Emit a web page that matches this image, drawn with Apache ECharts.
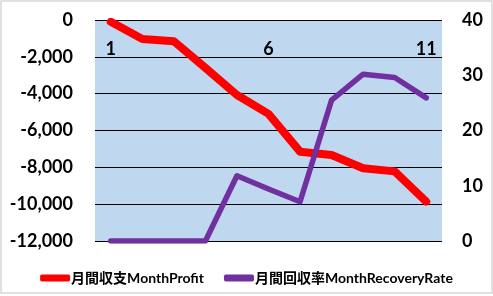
<!DOCTYPE html>
<html>
<head>
<meta charset="utf-8">
<script src="https://cdn.jsdelivr.net/npm/echarts@6/dist/echarts.min.js"></script>
<style>
html,body{margin:0;padding:0;background:#fff;}
#chart{width:493px;height:296px;}
</style>
</head>
<body>
<div id="chart"></div>
<script>
var categories = ['1','2','3','4','5','6','7','8','9','10','11'];
var monthProfit = [-100, -1030, -1150, -2600, -4070, -5100, -7150, -7330, -8050, -8220, -9860];
var recoveryRate = [0, 0, 0, 0, 11.8, 9.4, 7.1, 25.5, 30.2, 29.6, 25.9];
var leftTicks = {min: -12000, max: 0, interval: 2000};
var rightTicks = {min: 0, max: 40, interval: 10};
var seriesNames = ['月間収支MonthProfit', '月間回収率MonthRecoveryRate'];

var FONT = "Lato, 'Noto Sans CJK JP', sans-serif";
var chart = echarts.init(document.getElementById('chart'), null, {renderer: 'canvas'});
chart.setOption({
  animation: false,
  backgroundColor: '#ffffff',
  graphic: [{
    type: 'rect', silent: true, z: -1,
    shape: {x: 1, y: 1, width: 491, height: 292},
    style: {fill: 'none', stroke: '#d6d6d6', lineWidth: 1.5}
  }],
  grid: {
    left: 95, right: 51, top: 20, bottom: 55,
    show: true, backgroundColor: '#c0d8ef', borderWidth: 0
  },
  legend: {
    left: 'center', top: 266,
    icon: 'roundRect', itemWidth: 30, itemHeight: 7, itemGap: 20,
    textStyle: {fontFamily: FONT, fontWeight: 'bold', fontSize: 14, color: '#000', padding: [0, 0, 0, -4]},
    data: seriesNames
  },
  xAxis: {
    type: 'category', data: categories, position: 'top', boundaryGap: true,
    axisLine: {show: false}, axisTick: {show: false}, splitLine: {show: false},
    axisLabel: {inside: true, interval: 4, margin: 20, fontFamily: FONT, fontWeight: 'bold', fontSize: 18, color: '#000'}
  },
  yAxis: [{
    type: 'value', min: leftTicks.min, max: leftTicks.max, interval: leftTicks.interval,
    axisLine: {show: false}, axisTick: {show: false},
    splitLine: {show: true, lineStyle: {color: '#000', width: 1}},
    axisLabel: {margin: 22, fontFamily: FONT, fontWeight: 'bold', fontSize: 18, color: '#000',
      formatter: function (v) { return v.toLocaleString('en-US'); }}
  }, {
    type: 'value', min: rightTicks.min, max: rightTicks.max, interval: rightTicks.interval,
    axisLine: {show: false}, axisTick: {show: false}, splitLine: {show: false},
    axisLabel: {margin: 20, fontFamily: FONT, fontWeight: 'bold', fontSize: 18, color: '#000'}
  }],
  series: [{
    name: seriesNames[0], type: 'line', data: monthProfit, yAxisIndex: 0,
    showSymbol: false, symbol: 'none', color: '#ff0000',
    lineStyle: {width: 8, color: '#ff0000', cap: 'round', join: 'round'}
  }, {
    name: seriesNames[1], type: 'line', data: recoveryRate, yAxisIndex: 1,
    showSymbol: false, symbol: 'none', color: '#7030a0',
    lineStyle: {width: 5.5, color: '#7030a0', cap: 'round', join: 'round'}
  }]
});
</script>
</body>
</html>
